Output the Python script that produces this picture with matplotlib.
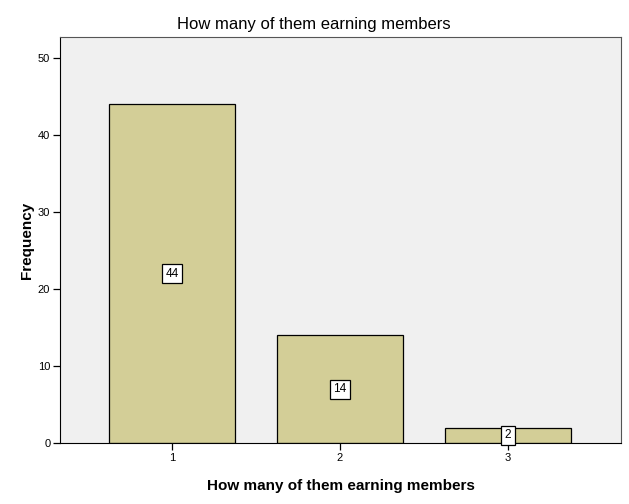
import matplotlib
matplotlib.use("Agg")
import matplotlib.pyplot as plt

categories = ["1", "2", "3"]
counts = [44, 14, 2]
yticks = [0, 10, 20, 30, 40, 50]

plt.rcParams['font.family'] = ['Liberation Sans', 'DejaVu Sans']

fig = plt.figure(figsize=(6.29, 5.04), dpi=100)
ax = fig.add_axes([60/629, 61/504, 561/629, 406/504])
ax.set_facecolor('#F0F0F0')

x = [1, 2, 3]
ax.bar(x, counts, width=0.75, color='#D3CE97', edgecolor='black', linewidth=0.9, zorder=2)
for xi, c in zip(x, counts):
    ax.text(xi, c / 2, str(c), ha='center', va='center', fontsize=8.5,
            bbox=dict(boxstyle='square,pad=0.3', facecolor='white', edgecolor='black', linewidth=0.9),
            zorder=3)

ax.set_xlim(0.333, 3.673)
ax.set_ylim(0, 52.7)
ax.set_xticks(x)
ax.set_xticklabels(categories)
ax.set_yticks(yticks)
ax.tick_params(axis='both', labelsize=8, length=5, width=0.9, direction='out', pad=2)
for s in ax.spines.values():
    s.set_color('#555555')
ax.spines['left'].set_color('black')
ax.spines['bottom'].set_color('black')

ax.set_xlabel('How many of them earning members', fontsize=11, fontweight='bold', labelpad=12)
ax.set_ylabel('Frequency', fontsize=11, fontweight='bold', labelpad=3)
fig.text(314/629, 1 - 24/504, 'How many of them earning members', ha='center', va='center', fontsize=12)

fig.savefig('out.png', dpi=100)
